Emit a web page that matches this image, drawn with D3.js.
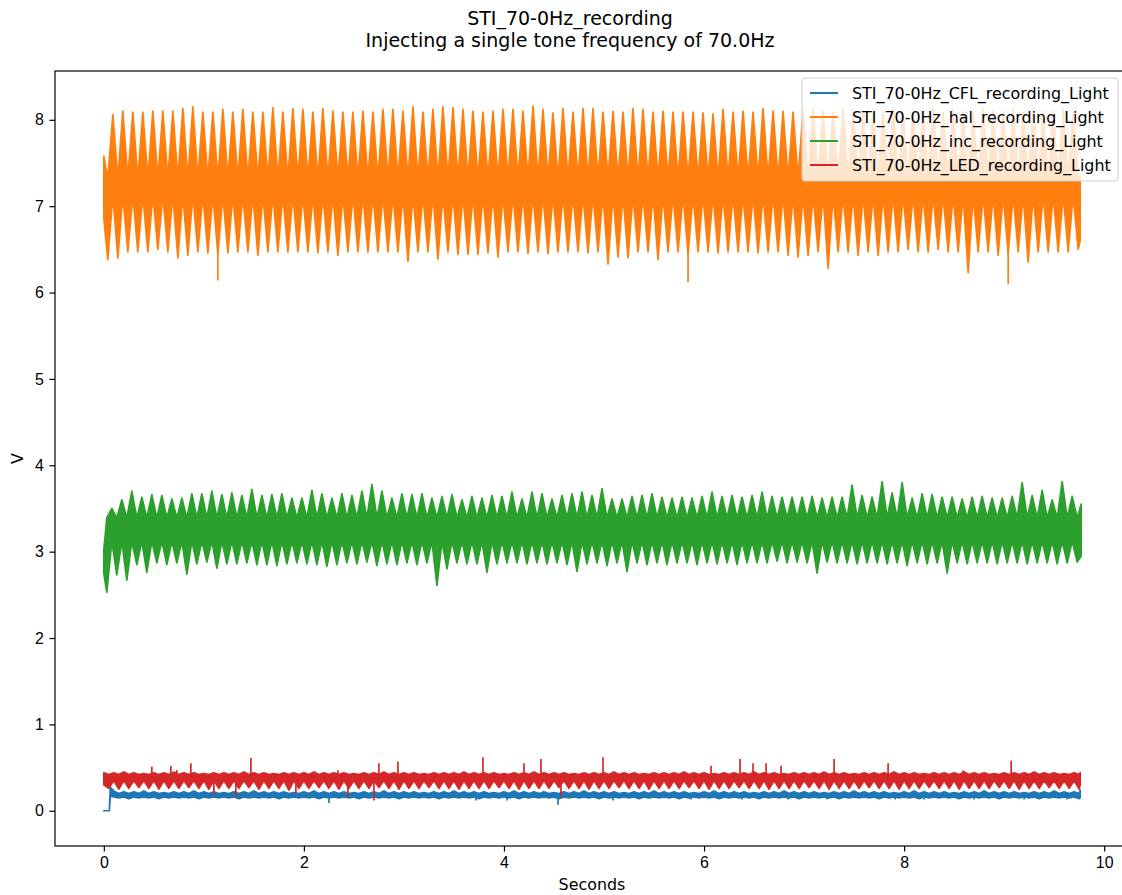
<!DOCTYPE html>
<html>
<head>
<meta charset="utf-8">
<script src="https://cdn.jsdelivr.net/npm/d3@7"></script>
<style>
  body { margin: 0; background: #fff; }
  svg { display: block; font-family: "DejaVu Sans", sans-serif; }
  .axis text { font-size: 15.9px; fill: #000; }
  .axis path, .axis line { stroke: #000; stroke-width: 1.2px; }
</style>
</head>
<body>
<svg id="chart" width="1122" height="895"></svg>
<script>
// series names (legend order = draw order)
const seriesNames = [
  "STI_70-0Hz_CFL_recording_Light",
  "STI_70-0Hz_hal_recording_Light",
  "STI_70-0Hz_inc_recording_Light",
  "STI_70-0Hz_LED_recording_Light"
];
const seriesColors = ["#1f77b4", "#ff7f0e", "#2ca02c", "#d62728"];
const xTicks = [0, 2, 4, 6, 8, 10];
const yTicks = [0, 1, 2, 3, 4, 5, 6, 7, 8];

// the recordings beat at ~10 Hz: one peak + one trough every 0.1 s
const beatPeriod = 0.1;

// --- halogen (orange) ---
const halHiStart = 0.09, halLoStart = 0.04;
const halCore = [7.13, 7.32];
const halLead = [[0, 6.86, 7.58]];
const halTail = [[9.76, 6.60, 7.35]];
const halHi = [
  8.06, 8.10, 8.09, 8.09, 8.10, 8.10, 8.10, 8.13, 8.15, 8.09,
  8.09, 8.12, 8.09, 8.12, 8.09, 8.09, 8.14, 8.09, 8.13, 8.12,
  8.09, 8.13, 8.10, 8.09, 8.09, 8.10, 8.09, 8.12, 8.12, 8.10,
  8.15, 8.09, 8.12, 8.15, 8.14, 8.12, 8.10, 8.09, 8.10, 8.12,
  8.12, 8.10, 8.16, 8.12, 8.08, 8.13, 8.09, 8.13, 8.13, 8.09,
  8.10, 8.09, 8.13, 8.12, 8.09, 8.10, 8.09, 8.09, 8.09, 8.08,
  8.07, 8.12, 8.09, 8.10, 8.09, 8.13, 8.10, 8.10, 8.09, 8.11,
  8.12, 8.10, 8.09, 8.13, 8.10, 8.09, 8.12, 8.10, 8.14, 8.09,
  8.11, 8.10, 8.13, 8.09, 8.12, 8.10, 8.09, 8.13, 8.11, 8.10,
  8.12, 8.09, 8.13, 8.10, 8.11, 8.12, 8.09
];
const halLo = [
  6.38, 6.40, 6.47, 6.47, 6.47, 6.50, 6.47, 6.40, 6.43, 6.47,
  6.46, 6.45, 6.46, 6.47, 6.47, 6.43, 6.47, 6.47, 6.47, 6.47,
  6.47, 6.46, 6.47, 6.43, 6.47, 6.47, 6.47, 6.47, 6.47, 6.47,
  6.36, 6.47, 6.47, 6.39, 6.47, 6.44, 6.44, 6.44, 6.46, 6.41,
  6.47, 6.47, 6.45, 6.47, 6.45, 6.47, 6.47, 6.47, 6.46, 6.47,
  6.33, 6.41, 6.40, 6.47, 6.47, 6.38, 6.47, 6.47, 6.45, 6.47,
  6.47, 6.46, 6.47, 6.47, 6.47, 6.46, 6.47, 6.47, 6.43, 6.41,
  6.43, 6.47, 6.28, 6.47, 6.47, 6.43, 6.47, 6.43, 6.47, 6.47,
  6.50, 6.47, 6.47, 6.50, 6.47, 6.47, 6.23, 6.47, 6.47, 6.43,
  6.45, 6.47, 6.35, 6.47, 6.47, 6.47, 6.47, 6.50
];
const halSpikeT = [1.14, 5.84, 9.04];
const halSpikeV = [6.14, 6.12, 6.10];

// --- incandescent (green) ---
const incHiStart = 0.08, incLoStart = 0.03;
const incCore = [3.12, 3.39];
const incLead = [[0, 2.75, 3.02]];
const incTail = [[9.77, 2.95, 3.55]];
const incHi = [
  3.50, 3.60, 3.70, 3.63, 3.66, 3.65, 3.61, 3.62, 3.67, 3.67,
  3.70, 3.66, 3.68, 3.65, 3.72, 3.65, 3.66, 3.67, 3.62, 3.62,
  3.71, 3.67, 3.62, 3.67, 3.65, 3.70, 3.78, 3.70, 3.62, 3.67,
  3.66, 3.67, 3.62, 3.64, 3.66, 3.60, 3.64, 3.62, 3.65, 3.64,
  3.69, 3.61, 3.69, 3.67, 3.61, 3.65, 3.67, 3.69, 3.65, 3.73,
  3.61, 3.61, 3.64, 3.65, 3.67, 3.63, 3.62, 3.63, 3.62, 3.64,
  3.69, 3.64, 3.65, 3.63, 3.65, 3.69, 3.64, 3.63, 3.63, 3.63,
  3.64, 3.62, 3.63, 3.63, 3.77, 3.65, 3.63, 3.81, 3.68, 3.80,
  3.62, 3.67, 3.66, 3.63, 3.63, 3.61, 3.63, 3.64, 3.62, 3.62,
  3.64, 3.80, 3.65, 3.71, 3.60, 3.81, 3.64
];
const incLo = [
  2.53, 2.73, 2.67, 2.85, 2.76, 2.87, 2.85, 2.87, 2.74, 2.86,
  2.88, 2.81, 2.86, 2.86, 2.87, 2.85, 2.85, 2.84, 2.86, 2.87,
  2.86, 2.85, 2.83, 2.85, 2.87, 2.86, 2.88, 2.84, 2.86, 2.85,
  2.87, 2.85, 2.87, 2.61, 2.80, 2.87, 2.86, 2.86, 2.76, 2.86,
  2.87, 2.87, 2.86, 2.87, 2.86, 2.87, 2.85, 2.77, 2.86, 2.87,
  2.84, 2.87, 2.77, 2.87, 2.85, 2.87, 2.85, 2.87, 2.87, 2.85,
  2.87, 2.86, 2.87, 2.85, 2.87, 2.87, 2.87, 2.89, 2.87, 2.88,
  2.87, 2.75, 2.88, 2.87, 2.87, 2.86, 2.87, 2.87, 2.86, 2.87,
  2.84, 2.87, 2.86, 2.87, 2.75, 2.87, 2.86, 2.87, 2.87, 2.86,
  2.87, 2.87, 2.86, 2.87, 2.87, 2.86, 2.87, 2.88
];
const incSpikeT = [];
const incSpikeV = [];

// --- LED (red) ---
const ledHiStart = 0.0, ledLoStart = 0.05;
const ledCore = [0.35, 0.42];
const ledLead = [[0, 0.30, 0.44]];
const ledTail = [[9.76, 0.30, 0.44]];
const ledHi = [
  0.44, 0.44, 0.45, 0.44, 0.43, 0.44, 0.44, 0.45, 0.44, 0.44,
  0.43, 0.44, 0.44, 0.44, 0.45, 0.44, 0.44, 0.43, 0.44, 0.44,
  0.44, 0.45, 0.44, 0.44, 0.44, 0.43, 0.44, 0.44, 0.45, 0.44,
  0.44, 0.44, 0.43, 0.44, 0.44, 0.44, 0.45, 0.44, 0.44, 0.44,
  0.43, 0.44, 0.44, 0.45, 0.44, 0.44, 0.44, 0.43, 0.44, 0.44,
  0.44, 0.45, 0.44, 0.44, 0.43, 0.44, 0.44, 0.44, 0.45, 0.44,
  0.44, 0.43, 0.44, 0.44, 0.44, 0.45, 0.44, 0.44, 0.43, 0.44,
  0.44, 0.44, 0.45, 0.44, 0.44, 0.43, 0.44, 0.44, 0.44, 0.45,
  0.44, 0.44, 0.43, 0.44, 0.44, 0.44, 0.45, 0.44, 0.44, 0.43,
  0.44, 0.44, 0.44, 0.45, 0.44, 0.44, 0.43, 0.44
];
const ledLo = [
  0.26, 0.25, 0.26, 0.27, 0.26, 0.25, 0.26, 0.26, 0.27, 0.26,
  0.25, 0.26, 0.26, 0.26, 0.27, 0.25, 0.26, 0.26, 0.24, 0.26,
  0.26, 0.27, 0.26, 0.25, 0.26, 0.26, 0.26, 0.27, 0.26, 0.25,
  0.26, 0.26, 0.27, 0.26, 0.26, 0.25, 0.26, 0.26, 0.26, 0.27,
  0.26, 0.25, 0.26, 0.26, 0.26, 0.27, 0.26, 0.26, 0.25, 0.26,
  0.26, 0.27, 0.26, 0.26, 0.25, 0.26, 0.26, 0.26, 0.27, 0.26,
  0.25, 0.26, 0.26, 0.27, 0.26, 0.26, 0.25, 0.26, 0.26, 0.26,
  0.27, 0.26, 0.25, 0.26, 0.26, 0.26, 0.27, 0.26, 0.26, 0.25,
  0.26, 0.26, 0.27, 0.26, 0.26, 0.25, 0.26, 0.26, 0.26, 0.27,
  0.26, 0.25, 0.26, 0.26, 0.27, 0.26, 0.26, 0.25
];
const ledSpikeT = [0.48, 0.67, 0.73, 0.87, 1.10, 1.32, 1.47, 1.92, 2.34, 2.44, 2.70, 2.75, 2.94,
                   3.79, 4.20, 4.37, 4.57, 4.99, 6.07, 6.36, 6.49, 6.62, 6.77, 7.30, 7.84, 8.59, 9.07];
const ledSpikeV = [0.51, 0.52, 0.47, 0.55, 0.18, 0.16, 0.61, 0.20, 0.47, 0.16, 0.12, 0.55, 0.57,
                   0.62, 0.55, 0.60, 0.16, 0.62, 0.52, 0.60, 0.55, 0.55, 0.52, 0.60, 0.55, 0.47, 0.58];

// --- CFL (blue) ---
const cflHiStart = 0.10, cflLoStart = 0.15;
const cflCore = [0.16, 0.20];
const cflLead = [[0, 0.0, 0.0], [0.055, 0.0, 0.0], [0.065, 0.17, 0.27]];
const cflTail = [[9.76, 0.15, 0.24]];
const cflHi = [
  0.23, 0.22, 0.22, 0.23, 0.22, 0.21, 0.22, 0.22, 0.23, 0.22,
  0.22, 0.21, 0.22, 0.22, 0.23, 0.22, 0.22, 0.22, 0.21, 0.22,
  0.23, 0.22, 0.22, 0.22, 0.21, 0.22, 0.22, 0.23, 0.22, 0.22,
  0.22, 0.21, 0.22, 0.22, 0.23, 0.22, 0.22, 0.22, 0.21, 0.22,
  0.23, 0.22, 0.22, 0.22, 0.21, 0.22, 0.22, 0.23, 0.22, 0.22,
  0.22, 0.21, 0.22, 0.22, 0.23, 0.22, 0.22, 0.22, 0.21, 0.22,
  0.23, 0.22, 0.22, 0.22, 0.21, 0.22, 0.22, 0.23, 0.22, 0.22,
  0.22, 0.21, 0.22, 0.22, 0.23, 0.22, 0.22, 0.22, 0.21, 0.22,
  0.23, 0.22, 0.22, 0.22, 0.21, 0.22, 0.22, 0.23, 0.22, 0.22,
  0.22, 0.21, 0.22, 0.22, 0.23, 0.22, 0.22
];
const cflLo = [
  0.15, 0.14, 0.15, 0.15, 0.14, 0.15, 0.15, 0.15, 0.14, 0.15,
  0.15, 0.15, 0.14, 0.15, 0.15, 0.15, 0.14, 0.15, 0.15, 0.15,
  0.14, 0.15, 0.15, 0.15, 0.14, 0.15, 0.15, 0.15, 0.14, 0.15,
  0.15, 0.15, 0.14, 0.15, 0.15, 0.15, 0.14, 0.15, 0.15, 0.15,
  0.14, 0.15, 0.15, 0.15, 0.14, 0.15, 0.15, 0.15, 0.14, 0.15,
  0.15, 0.15, 0.14, 0.15, 0.15, 0.15, 0.14, 0.15, 0.15, 0.15,
  0.14, 0.15, 0.15, 0.15, 0.14, 0.15, 0.15, 0.15, 0.14, 0.15,
  0.15, 0.15, 0.14, 0.15, 0.15, 0.15, 0.14, 0.15, 0.15, 0.15,
  0.14, 0.15, 0.15, 0.15, 0.14, 0.15, 0.15, 0.15, 0.14, 0.15,
  0.15, 0.15, 0.14, 0.15, 0.15, 0.15, 0.14
];
const cflSpikeT = [2.25, 3.72, 4.03, 4.54, 5.09, 5.87, 6.38, 6.84, 7.23, 7.91, 8.20, 8.70, 9.20, 9.63];
const cflSpikeV = [0.09, 0.12, 0.12, 0.07, 0.12, 0.13, 0.13, 0.13, 0.13, 0.13, 0.13, 0.13, 0.13, 0.13];

const series = [
  {hi: cflHi, lo: cflLo, hiStart: cflHiStart, loStart: cflLoStart, core: cflCore, lead: cflLead, tail: cflTail, spikeT: cflSpikeT, spikeV: cflSpikeV},
  {hi: halHi, lo: halLo, hiStart: halHiStart, loStart: halLoStart, core: halCore, lead: halLead, tail: halTail, spikeT: halSpikeT, spikeV: halSpikeV},
  {hi: incHi, lo: incLo, hiStart: incHiStart, loStart: incLoStart, core: incCore, lead: incLead, tail: incTail, spikeT: incSpikeT, spikeV: incSpikeV},
  {hi: ledHi, lo: ledLo, hiStart: ledHiStart, loStart: ledLoStart, core: ledCore, lead: ledLead, tail: ledTail, spikeT: ledSpikeT, spikeV: ledSpikeV}
];

// layout
const plot = {left: 55, right: 1129, top: 71, bottom: 846};
const fontSize = 15.9, lineW = 1.7;

const svg = d3.select("#chart");

const x = d3.scaleLinear().domain([-0.488, 10.248]).range([plot.left, plot.right]);
const y = d3.scaleLinear().domain([-0.408, 8.565]).range([plot.bottom, plot.top]);

// envelope points: every trough carries (lo, coreHi), every peak (coreLo, hi)
function envelope(s) {
  const leadEnd = s.lead[s.lead.length - 1][0];
  const tailStart = s.tail[0][0];
  const pts = s.lead.map(d => ({t: d[0], y0: d[1], y1: d[2]}));
  const cyc = [];
  s.lo.forEach((v, k) => cyc.push({t: s.loStart + k * beatPeriod, y0: v, y1: s.core[1]}));
  s.hi.forEach((v, k) => cyc.push({t: s.hiStart + k * beatPeriod, y0: s.core[0], y1: v}));
  cyc.sort((a, b) => a.t - b.t);
  cyc.filter(d => d.t > leadEnd && d.t < tailStart).forEach(d => pts.push(d));
  s.tail.forEach(d => pts.push({t: d[0], y0: d[1], y1: d[2]}));
  return pts;
}

const area = d3.area()
  .x(d => x(d.t))
  .y0(d => y(d.y0))
  .y1(d => y(d.y1));

svg.append("defs").append("clipPath").attr("id", "clip")
  .append("rect")
  .attr("x", plot.left).attr("y", plot.top)
  .attr("width", plot.right - plot.left).attr("height", plot.bottom - plot.top);

const gLines = svg.append("g").attr("clip-path", "url(#clip)");

series.forEach((s, i) => {
  const g = gLines.append("g");
  g.append("path")
    .datum(envelope(s))
    .attr("d", area)
    .attr("fill", seriesColors[i])
    .attr("stroke", seriesColors[i])
    .attr("stroke-width", lineW)
    .attr("stroke-linejoin", "round");
  // single-sample glitches
  const mid = (s.core[0] + s.core[1]) / 2;
  g.selectAll("line.spike")
    .data(s.spikeT.map((t, j) => ({t: t, v: s.spikeV[j]})))
    .join("line")
    .attr("class", "spike")
    .attr("x1", d => x(d.t)).attr("x2", d => x(d.t))
    .attr("y1", y(mid)).attr("y2", d => y(d.v))
    .attr("stroke", seriesColors[i])
    .attr("stroke-width", lineW);
});

// axes
const tickLen = 5.6;
svg.append("g").attr("class", "axis")
  .attr("transform", `translate(0,${plot.bottom})`)
  .call(d3.axisBottom(x).tickValues(xTicks).tickSize(tickLen).tickPadding(5.6).tickFormat(d3.format("d")))
  .call(g => g.select(".domain").remove());
svg.append("g").attr("class", "axis")
  .attr("transform", `translate(${plot.left},0)`)
  .call(d3.axisLeft(y).tickValues(yTicks).tickSize(tickLen).tickPadding(5.6).tickFormat(d3.format("d")))
  .call(g => g.select(".domain").remove());

// spines (right one falls outside the picture)
svg.append("rect")
  .attr("x", plot.left).attr("y", plot.top)
  .attr("width", plot.right - plot.left).attr("height", plot.bottom - plot.top)
  .attr("fill", "none").attr("stroke", "#000").attr("stroke-width", 1.2);

// axis labels
svg.append("text")
  .attr("x", (plot.left + plot.right) / 2).attr("y", 890)
  .attr("text-anchor", "middle").attr("font-size", fontSize)
  .text("Seconds");
svg.append("text")
  .attr("transform", `translate(23,${(plot.top + plot.bottom) / 2}) rotate(-90)`)
  .attr("text-anchor", "middle").attr("font-size", fontSize)
  .text("V");

// title
const titleLines = ["STI_70-0Hz_recording", "Injecting a single tone frequency of 70.0Hz"];
svg.append("g").selectAll("text")
  .data(titleLines)
  .join("text")
  .attr("x", 570).attr("y", (d, i) => 25 + i * 22)
  .attr("text-anchor", "middle").attr("font-size", 19)
  .text(d => d);

// legend
const leg = svg.append("g").attr("transform", "translate(802,78)");
leg.append("rect")
  .attr("width", 316).attr("height", 103).attr("rx", 3)
  .attr("fill", "#fff").attr("fill-opacity", 0.8)
  .attr("stroke", "#ccc").attr("stroke-width", 1);
const item = leg.selectAll("g.item")
  .data(seriesNames)
  .join("g").attr("class", "item")
  .attr("transform", (d, i) => `translate(0,${15 + i * 24})`);
item.append("line")
  .attr("x1", 8).attr("x2", 36)
  .attr("stroke", (d, i) => seriesColors[i]).attr("stroke-width", 2);
item.append("text")
  .attr("x", 50).attr("dy", "0.35em").attr("font-size", fontSize)
  .text(d => d);
</script>
</body>
</html>
